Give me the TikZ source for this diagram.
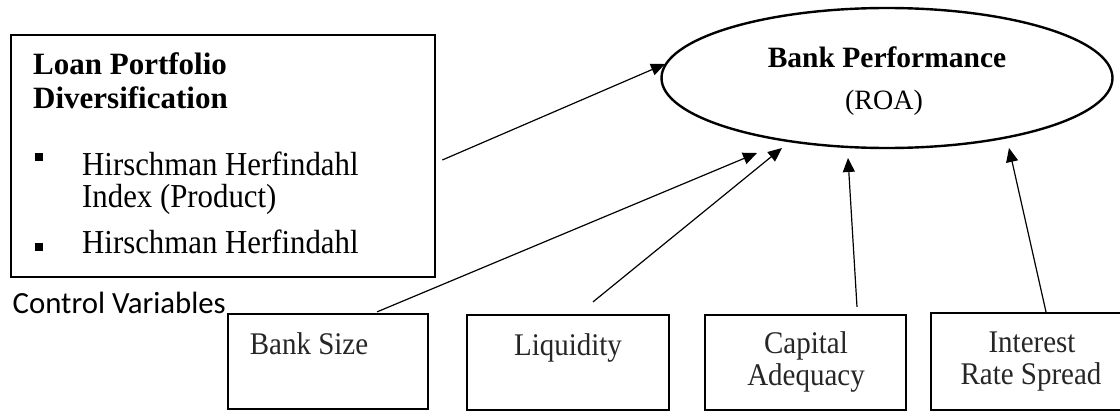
\documentclass[tikz,border=0pt]{standalone}
\usepackage{fontspec}
\setmainfont{Liberation Serif}
\newfontfamily\carlito{Carlito}
\newfontfamily\narrowserif[FakeStretch=0.92]{Liberation Serif}
\usetikzlibrary{shapes.geometric,arrows.meta}
\begin{document}
\begin{tikzpicture}[x=1pt,y=-1pt,
  bigframe/.style={draw, line width=2.6pt, inner sep=0pt},
  ctrlbox/.style={draw, line width=2.2pt, inner sep=0pt, minimum width=200pt, minimum height=95pt},
  txt/.style={inner sep=0pt, anchor=base west, font=\narrowserif\fontsize{33.5}{35}\selectfont},
  btxt/.style={inner sep=0pt, anchor=base west, font=\fontsize{31}{33}\selectfont\bfseries},
  ctxt/.style={inner sep=0pt, anchor=base, text=black!85, font=\narrowserif\fontsize{31.5}{33}\selectfont},
  bullet/.style={fill=black, inner sep=0pt, minimum width=8pt, minimum height=7.5pt},
  arr/.style={line width=1.2pt, -{Triangle[length=14pt,width=12pt]}}
]
\clip (0,0) rectangle (1120,412);
\fill[white] (0,0) rectangle (1120,412);

% main left box
\node[bigframe, minimum width=424pt, minimum height=242pt] (lpd) at (223,156) {};
\node[btxt] (t1) at (33,75) {Loan Portfolio};
\node[btxt] (t2) at (33,108) {Diversification};
\node[bullet] (b1) at (39,157) {};
\node[txt] (t3) at (82,175) {Hirschman Herfindahl};
\node[txt] (t4) at (82,207) {Index (Product)};
\node[bullet] (b2) at (39,247) {};
\node[txt] (t5) at (82,253) {Hirschman Herfindahl};

% ellipse
\node[draw, ellipse, line width=2.4pt, inner sep=0pt, minimum width=451pt, minimum height=140pt] (perf) at (887,78) {};
\node[inner sep=0pt, anchor=base, font=\fontsize{29.5}{31}\selectfont\bfseries] (pt1) at (887,68) {Bank Performance};
\node[inner sep=0pt, anchor=base, font=\fontsize{28}{30}\selectfont] (pt2) at (884,110) {(ROA)};

% control variables label
\node[inner sep=0pt, anchor=base west, font=\carlito\fontsize{30.8}{33}\selectfont] (cv) at (12.5,313) {Control Variables};

% control boxes
\node[ctrlbox] (bs) at (328,361.5) {};
\node[ctxt] (bst) at (309,354) {Bank Size};
\node[ctrlbox, minimum width=202pt] (liq) at (568,362.5) {};
\node[ctxt] (liqt) at (568,355) {Liquidity};
\node[ctrlbox, minimum width=201pt] (cap) at (805.5,362.5) {};
\node[ctxt] (capt1) at (806,353) {Capital};
\node[ctxt] (capt2) at (806,385) {Adequacy};
\node[ctrlbox, minimum height=97pt] (irs) at (1031,361.5) {};
\node[ctxt] (irst1) at (1032,352) {Interest};
\node[ctxt] (irst2) at (1031,384) {Rate Spread};

% arrow tips
\coordinate (a0) at (665,64);
\coordinate (a1) at (757,153);
\coordinate (a2) at (782,148);
\coordinate (a3) at (848,158);
\coordinate (a4) at (1009,148);

\draw[arr] ([xshift=6pt,yshift=-4pt]lpd.east) -- (a0);
\draw[arr] ([xshift=49pt,yshift=1pt]bs.north) -- (a1);
\draw[arr] ([xshift=25pt,yshift=12pt]liq.north) -- (a2);
\draw[arr] ([xshift=51.5pt,yshift=7pt]cap.north) -- (a3);
\draw[arr] ([xshift=15pt]irs.north) -- (a4);
\end{tikzpicture}
\end{document}
